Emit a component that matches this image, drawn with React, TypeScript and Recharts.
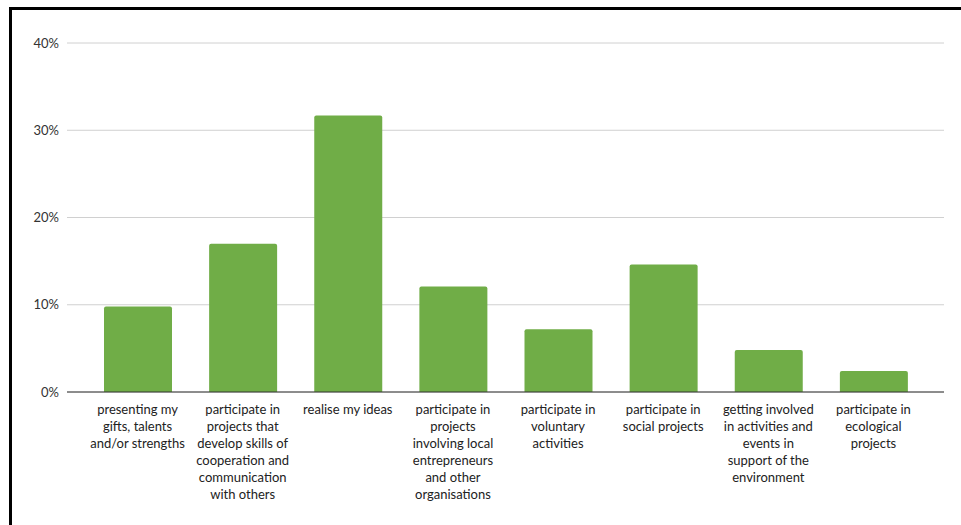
import React from "react";
import { BarChart, Bar, XAxis, YAxis, CartesianGrid } from "recharts";

const categories: string[] = [
  "presenting my\ngifts, talents\nand/or strengths",
  "participate in\nprojects that\ndevelop skills of\ncooperation and\ncommunication\nwith others",
  "realise my ideas",
  "participate in\nprojects\ninvolving local\nentrepreneurs\nand other\norganisations",
  "participate in\nvoluntary\nactivities",
  "participate in\nsocial projects",
  "getting involved\nin activities and\nevents in\nsupport of the\nenvironment",
  "participate in\necological\nprojects",
];

const shares: number[] = [0.098, 0.17, 0.317, 0.121, 0.072, 0.146, 0.048, 0.024];

const yTicks: number[] = [0, 0.1, 0.2, 0.3, 0.4];

const data = categories.map((c, i) => ({ category: c, share: shares[i] }));

const FONT = "Lato, 'Noto Sans', sans-serif";

const CategoryTick = (props: any) => {
  const { x, y, payload } = props;
  const lines: string[] = String(payload.value).split("\n");
  return (
    <text x={x} y={y} textAnchor="middle" fill="#222" fontSize={13} fontFamily={FONT}>
      {lines.map((l, i) => (
        <tspan key={i} x={x} dy={i === 0 ? 14 : 17}>
          {l}
        </tspan>
      ))}
    </text>
  );
};

export default function App() {
  return (
    <div style={{ position: "absolute", left: 0, top: 0, width: 961, height: 525, background: "#fff", overflow: "hidden" }}>
      <div
        style={{
          position: "absolute",
          left: 9,
          top: 7,
          width: 980,
          height: 540,
          borderLeft: "3px solid #000",
          borderTop: "3px solid #000",
        }}
      />
      <div style={{ position: "absolute", left: 0, top: 0 }}>
        <BarChart
          width={961}
          height={525}
          data={data}
          margin={{ top: 43, right: 17, bottom: 8, left: 0 }}
          barCategoryGap={0}
        >
          <CartesianGrid vertical={false} stroke="#d0d0d0" strokeWidth={1} />
          <YAxis
            width={67}
            domain={[0, 0.4]}
            ticks={yTicks}
            tickLine={false}
            axisLine={false}
            tickFormatter={(v: number) => `${Math.round(v * 100)}%`}
            tick={{ fill: "#333", fontSize: 13, fontFamily: FONT }}
          />
          <XAxis
            dataKey="category"
            height={125}
            interval={0}
            tickLine={false}
            axisLine={{ stroke: "#333", strokeWidth: 1 }}
            padding={{ left: 18, right: 18 }}
            tick={<CategoryTick />}
          />
          <Bar dataKey="share" fill="#70AD47" barSize={68} radius={[2, 2, 0, 0]} isAnimationActive={false} />
        </BarChart>
      </div>
    </div>
  );
}
